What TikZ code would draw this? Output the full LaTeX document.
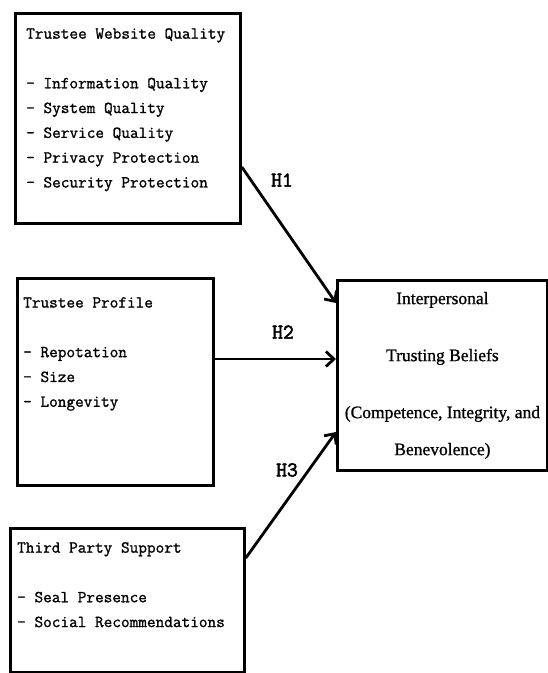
\documentclass[tikz,border=0pt]{standalone}
\usepackage{fontspec}
\setmainfont{Liberation Serif}
\newfontfamily\serifb[FakeBold=1]{Liberation Serif}
\newfontfamily\monof[FakeBold=1.2]{Latin Modern Mono}
\newfontfamily\hfont[FakeBold=2.5]{Latin Modern Mono}
\usetikzlibrary{arrows.meta}
\begin{document}
\begin{tikzpicture}[x=1pt,y=-1pt,
  box/.style={draw, line width=2.8pt, anchor=north west, inner sep=0pt},
  lst/.style={anchor=north west, inner sep=0pt, align=left, font=\monof\fontsize{16.8}{24.8}\selectfont},
  arr/.style={line width=2.8pt, -{Straight Barb[length=8pt,width=15pt]}},
  hl/.style={font=\hfont\fontsize{21}{21}\selectfont, inner sep=0pt}]
\useasboundingbox (0,0) rectangle (547,673);
% boxes
\node[box, minimum width=225pt, minimum height=210pt] (b1) at (14,12) {};
\node[box, minimum width=196pt, minimum height=207pt] (b2) at (16,277) {};
\node[box, minimum width=234pt, minimum height=144pt] (b3) at (9,527) {};
\node[box, minimum width=210pt, minimum height=190pt, align=center,
      font=\serifb\fontsize{17.5}{37}\selectfont] (b4) at (336,279)
  {Interpersonal\\[20pt]Trusting Beliefs\\[20pt](Competence, Integrity, and\\Benevolence)};
% texts
\node[lst] (t1) at (26,28) {Trustee Website Quality\\[24.8pt]- Information Quality\\- System Quality\\- Service Quality\\- Privacy Protection\\- Security Protection};
\node[lst] (t2) at (23,297) {Trustee Profile\\[24.8pt]- Repotation\\- Size\\- Longevity};
\node[lst] (t3) at (17,542) {Third Party Support\\[24.8pt]- Seal Presence\\- Social Recommendations};
% connectors
\draw[arr] ([yshift=-155pt]b1.north east) -- ([yshift=-24pt]b4.north west);
\draw[arr] ([yshift=-82pt]b2.north east) -- ([yshift=-80pt]b4.north west);
\draw[arr] ([yshift=-31pt]b3.north east) -- ([yshift=-153pt]b4.north west);
% labels
\node[hl] (h1) at (282,180) {H1};
\node[hl] (h2) at (283,332) {H2};
\node[hl] (h3) at (287,470) {H3};
\end{tikzpicture}
\end{document}
